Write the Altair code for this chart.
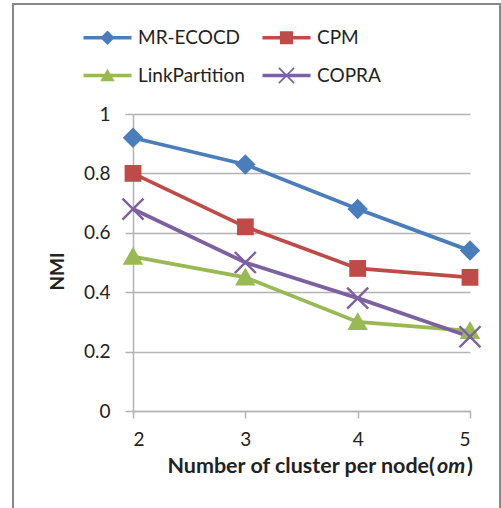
import math
import altair as alt
import pandas as pd

# ---- data ----
x_values = [2, 3, 4, 5]
series_names = ["MR-ECOCD", "CPM", "LinkPartition", "COPRA"]
mr_ecocd = [0.92, 0.83, 0.68, 0.54]
cpm = [0.80, 0.62, 0.48, 0.45]
link_partition = [0.52, 0.45, 0.30, 0.27]
copra = [0.68, 0.50, 0.38, 0.25]
y_ticks = [0, 0.2, 0.4, 0.6, 0.8, 1.0]
x_title_main = "Number of cluster per node("
x_title_ital = "om"
x_title_end = ")"
y_title = "NMI"

colors = ["#4A7EBB", "#BE4B48", "#98B954", "#7D60A0"]

rows = []
for name, vals in zip(series_names, [mr_ecocd, cpm, link_partition, copra]):
    for xv, yv in zip(x_values, vals):
        rows.append({"om": xv, "NMI": yv, "series": name})
df = pd.DataFrame(rows)

# ---- marker shapes (unit paths) ----
def poly(pts):
    return "M" + "L".join(f"{x:.3f},{y:.3f}" for x, y in pts) + "Z"

def scaled(pts, f):
    return [(x * f, y * f) for x, y in pts]

def x_pts(L, t):
    pts = [(-t, -L), (t, -L), (t, -t), (L, -t), (L, t), (t, t), (t, L), (-t, L),
           (-t, t), (-L, t), (-L, -t), (-t, -t)]
    c = s = math.sqrt(0.5)
    return [(x * c - y * s, x * s + y * c) for x, y in pts]

diamond = [(0, -1), (1, 0), (0, 1), (-1, 0)]
square = [(-0.82, -0.82), (0.82, -0.82), (0.82, 0.82), (-0.82, 0.82)]
triangle = [(0, -0.95), (1, 0.8), (-1, 0.8)]

marker_paths = [poly(diamond), poly(square), poly(triangle), poly(x_pts(1.45, 0.12))]

line_rect = poly([(-3, -0.22), (3, -0.22), (3, 0.22), (-3, 0.22)])
legend_paths = [
    line_rect + poly(scaled(diamond, 0.9)),
    line_rect + poly(scaled(square, 1.0)),
    line_rect + poly(scaled(triangle, 0.9)),
    line_rect + poly(x_pts(1.35, 0.1)),
]

FONT = "Lato"
GRID = "#b3b3b3"
TXT = "#222222"

x_enc = alt.X(
    "om:Q",
    scale=alt.Scale(domain=[2, 5], nice=False, zero=False),
    axis=alt.Axis(
        values=x_values, format="d", grid=False, title=None,
        domainColor=GRID, domainWidth=1.5, tickColor=GRID, tickWidth=1.5, tickSize=7,
        labelFont=FONT, labelFontSize=19, labelColor=TXT, labelPadding=12,
    ),
)
y_enc = alt.Y(
    "NMI:Q",
    scale=alt.Scale(domain=[0, 1], nice=False),
    axis=alt.Axis(
        values=y_ticks, format="~g", grid=True, gridColor=GRID, gridWidth=1.5,
        domainColor=GRID, domainWidth=1.5, tickColor=GRID, tickWidth=1.5, tickSize=8,
        labelFont=FONT, labelFontSize=19, labelColor=TXT, labelPadding=15,
        title=y_title, titleFont=FONT, titleFontSize=19, titleFontWeight="bold",
        titleColor=TXT, titleX=-76, titleY=157, titleAlign="center", titleBaseline="middle",
    ),
)

color_scale = alt.Scale(domain=series_names, range=colors)

leg_def = alt.Legend(
    title=None, orient="none", legendX=-35, legendY=-86, direction="horizontal",
    columns=2, columnPadding=17, rowPadding=18, padding=0,
    symbolSize=256, symbolStrokeWidth=0, symbolOpacity=1, labelOffset=21,
    labelFont=FONT, labelFontSize=19, labelColor=TXT, labelLimit=0,
)

base = alt.Chart(df)

lines = base.mark_line(strokeWidth=3.75).encode(
    x=x_enc, y=y_enc,
    color=alt.Color("series:N", scale=color_scale, legend=None),
)

pts = base.mark_point(filled=True, size=420, opacity=1).encode(
    x=x_enc, y=y_enc,
    color=alt.Color("series:N", scale=color_scale, legend=None),
    shape=alt.Shape("series:N", scale=alt.Scale(domain=series_names, range=marker_paths), legend=None),
)

leg = base.transform_filter("false").mark_point(filled=True, size=256, opacity=1).encode(
    x=x_enc, y=y_enc,
    color=alt.Color("series:N", scale=color_scale, legend=leg_def),
    shape=alt.Shape("series:N", scale=alt.Scale(domain=series_names, range=legend_paths), legend=leg_def),
)

one = pd.DataFrame({"k": [0]})
frame = alt.Chart(one).mark_rect(fillOpacity=0, stroke="#888888", strokeWidth=2).encode(
    x=alt.value(-120), x2=alt.value(367), y=alt.value(-110), y2=alt.value(400)
)

TS = 21.5
t1 = alt.Chart(pd.DataFrame({"t": [x_title_main]})).mark_text(
    font=FONT, fontSize=TS, fontWeight="bold", color=TXT, align="right", baseline="middle"
).encode(text="t:N", x=alt.value(302), y=alt.value(353))
t2 = alt.Chart(pd.DataFrame({"t": [x_title_ital]})).mark_text(
    font=FONT, fontSize=TS, fontWeight="bold", fontStyle="italic", color=TXT, align="left", baseline="middle"
).encode(text="t:N", x=alt.value(304), y=alt.value(353))
t3 = alt.Chart(pd.DataFrame({"t": [x_title_end]})).mark_text(
    font=FONT, fontSize=TS, fontWeight="bold", color=TXT, align="left", baseline="middle"
).encode(text="t:N", x=alt.value(334), y=alt.value(353))

chart = alt.layer(frame, lines, pts, leg, t1, t2, t3).resolve_scale(
    color="independent", shape="independent"
).properties(
    width=337, height=297,
    padding={"left": 133, "top": 114, "right": 31, "bottom": 97},
    autosize="none", background="white",
).configure_view(stroke=None)

chart.save("out.html", embed_options={"renderer": "svg", "actions": False})
